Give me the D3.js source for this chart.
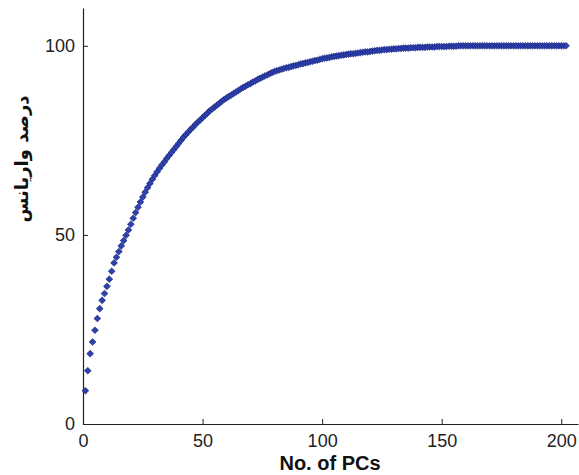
<html>
<script src='https://d3js.org/d3.v7.min.js'></script>
<style>
body {margin:0; background:#fff;}
.tick text {font-family:'Liberation Sans',Arial,sans-serif; font-size:18px; fill:#222;}
.domain, .tick line {stroke:#222;}
</style>
<body onload='init()'>
<svg width=579 height=475></svg>
<script>
// cumulative explained variance (%) for PC 1, 2, 3, ...
var variance = [
 8.8,14.1,18.6,21.7,24.8,27.9,30.5,32.7,34.5,36.4,
 38.3,40.4,42.6,44.1,45.6,47.1,48.5,49.9,51.3,52.8,
 54.4,55.9,57.3,58.7,60.0,61.3,62.5,63.6,64.7,65.7,
 66.7,67.6,68.5,69.3,70.2,71.0,71.8,72.6,73.4,74.2,
 75.0,75.8,76.5,77.2,77.9,78.5,79.2,79.8,80.4,81.0,
 81.6,82.2,82.8,83.3,83.8,84.3,84.8,85.3,85.8,86.2,
 86.6,87.0,87.4,87.8,88.2,88.6,89.0,89.3,89.7,90.0,
 90.4,90.7,91.1,91.4,91.7,92.0,92.3,92.6,92.9,93.2,
 93.4,93.6,93.8,94.0,94.2,94.3,94.5,94.7,94.8,95.0,
 95.2,95.3,95.5,95.6,95.8,95.9,96.1,96.2,96.4,96.6,
 96.7,96.8,96.9,97.1,97.2,97.3,97.4,97.5,97.6,97.7,
 97.8,97.9,97.9,98.0,98.1,98.2,98.3,98.4,98.4,98.5,
 98.6,98.7,98.8,98.8,98.9,99.0,99.0,99.1,99.1,99.2,
 99.2,99.3,99.3,99.4,99.4,99.4,99.5,99.5,99.5,99.6,
 99.6,99.6,99.6,99.7,99.7,99.7,99.7,99.8,99.8,99.8,
 99.8,99.8,99.9,99.9,99.9,99.9,100,100,100,100,
 100,100,100,100,100,100,100,100,100,100,
 100,100,100,100,100,100,100,100,100,100,
 100,100,100,100,100,100,100,100,100,100,
 100,100,100,100,100,100,100,100,100,100,
 100,100
]
var xTicks = [0, 50, 100, 150, 200]
var yTicks = [0, 50, 100]
var xTitle = "No. of PCs"
var yTitle = "درصد واریانس"

function init() {
var svg = d3.select("svg")
var x = d3.scaleLinear().domain([0, 207]).range([83, 578])
var y = d3.scaleLinear().domain([0, 110]).range([424, 8])

svg.append("g").attr("transform","translate(0,424)")
  .call(d3.axisBottom(x).tickValues(xTicks).tickSizeInner(-5).tickSizeOuter(0).tickPadding(10))
  .call(g => g.select(".domain").attr("stroke-width",1.2))
svg.append("g").attr("transform","translate(83,0)")
  .call(d3.axisLeft(y).tickValues(yTicks).tickSizeInner(-5).tickSizeOuter(0).tickPadding(8))
  .call(g => g.select(".domain").attr("stroke-width",1.2))

var diamond = "M0,-3.3L3.4,0L0,3.3L-3.4,0Z"
svg.append("g").selectAll("path")
  .data(variance).enter().append("path")
  .attr("d", diamond)
  .attr("transform", function(d,i) { return "translate(" + x(i+1) + "," + y(d) + ")" })
  .attr("fill", "#2c42ac")
  .attr("stroke", "#1b2380")
  .attr("stroke-width", 0.7)

svg.append("text").attr("x", 330).attr("y", 470)
  .attr("text-anchor","middle")
  .style("font-family","'Liberation Sans',Arial,sans-serif")
  .style("font-weight","bold").style("font-size","20px").style("fill","#111")
  .text(xTitle)

svg.append("text").attr("transform","translate(28,159) rotate(-90)")
  .attr("text-anchor","middle")
  .style("font-family","'DejaVu Sans',sans-serif")
  .style("font-weight","bold")
  .style("font-size","18px").style("fill","#111")
  .text(yTitle)
}
</script>
</body>
</html>
